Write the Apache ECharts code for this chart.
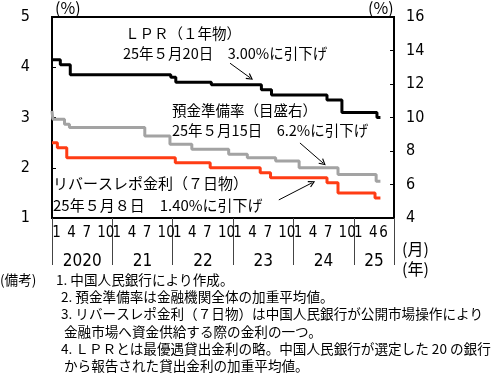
<!DOCTYPE html>
<html>
<head>
<meta charset="utf-8">
<script src="https://cdn.jsdelivr.net/npm/echarts@6/dist/echarts.min.js"></script>
<style>
html,body{margin:0;padding:0;background:#fff;}
#chart{width:493px;height:381px;}
</style>
</head>
<body>
<div id="chart"></div>
<script>
// ---- data (step dates and new levels) ----
const lprDates   = ['2020-01-01','2020-02-20','2020-04-20','2021-12-20','2022-01-20','2022-08-22','2023-06-20','2023-08-21','2024-07-22','2024-10-21','2025-05-20','2025-06-10'];
const lprValues  = [4.15, 4.05, 3.85, 3.80, 3.70, 3.65, 3.55, 3.45, 3.35, 3.10, 3.00, 3.00];

const rrrDates   = ['2020-01-01','2020-01-06','2020-03-16','2020-04-15','2021-07-15','2021-12-15','2022-04-25','2022-12-05','2023-03-27','2023-09-15','2024-02-05','2024-09-27','2025-05-15','2025-06-10'];
const rrrValues  = [10.4, 9.9, 9.6, 9.4, 8.9, 8.4, 8.1, 7.8, 7.6, 7.4, 7.0, 6.6, 6.2, 6.2];

const repoDates  = ['2020-01-01','2020-02-03','2020-03-30','2022-01-17','2022-08-15','2023-06-13','2023-08-15','2024-07-22','2024-09-27','2025-05-08','2025-06-10'];
const repoValues = [2.50, 2.40, 2.20, 2.10, 2.00, 1.90, 1.80, 1.70, 1.50, 1.40, 1.40];

// ---- axis labels ----
const yearLabels  = ['2020','21','22','23','24','25'];
const monthLabelsByYear = [['1','4','7','10'],['1','4','7','10'],['1','4','7','10'],['1','4','7','10'],['1','4','7','10'],['1','4','6']];
const axisStart = '2020-01-01';
const axisEnd   = '2025-09-01';

const FONT_NUM = "'Liberation Sans Narrow','DejaVu Sans Condensed',sans-serif";
const FONT_JP  = "'Noto Sans CJK JP',sans-serif";

function monthIndex(s){
  const [y,m,d] = s.split('-').map(Number);
  const dim = new Date(y, m, 0).getDate();
  return (y-2020)*12 + (m-1) + (d-1)/dim;
}
const xMax = monthIndex(axisEnd); // 68
function pairs(dates, vals){ return dates.map((d,i)=>[monthIndex(d), vals[i]]); }

const monthLabelMap = {};
monthLabelsByYear.forEach((arr, yi) => arr.forEach(lbl => {
  const c = yi*12 + (Number(lbl)-1) + 0.5;
  monthLabelMap[c.toFixed(1)] = lbl;
}));
const yearLabelMap = {};
yearLabels.forEach((lbl, yi) => {
  const s = yi*12, e = Math.min(yi*12+12, xMax);
  yearLabelMap[((s+e)/2).toFixed(1)] = lbl;
});

const chart = echarts.init(document.getElementById('chart'), null, {renderer:'canvas'});

const baseX = {type:'value', position:'bottom', gridIndex:0, min:0, max:xMax, splitLine:{show:false}, axisLine:{show:false}, axisTick:{show:false}, axisLabel:{show:false}};

function txt(x, y, text, size, extra){
  return Object.assign({type:'text', x:x, y:y, silent:true,
    style:{text:text, fill:'#000', font: size+'px ' + FONT_JP, textAlign:'left', align:'left', textVerticalAlign:'middle', verticalAlign:'middle'}}, extra||{});
}

const CHEVRON = 'path://M5,0 L10,8.6 L8.6,9.4 L5,3.2 L1.4,9.4 L0,8.6 Z';
function arrow(from, to){
  return {silent:true, symbol:['none', CHEVRON], symbolSize:[7,7], label:{show:false},
    lineStyle:{color:'#000', width:1, type:'solid'}, itemStyle:{color:'#000'},
    data:[[{coord:from},{coord:to}]]};
}

const option = {
  animation:false,
  backgroundColor:'#fff',
  grid:{left:52, right:99, top:17, bottom:163, show:true, borderColor:'#000', borderWidth:2, backgroundColor:'transparent', containLabel:false, outerBoundsMode:'none'},
  xAxis:[
    Object.assign({}, baseX, {interval:12, axisLine:{show:true, onZero:false, lineStyle:{color:'#000', width:2}},
      axisTick:{show:true, inside:false, length:47, lineStyle:{color:'#444', width:1}}}),
    Object.assign({}, baseX, {interval:0.5, axisLabel:{show:true, margin:8, color:'#000', fontFamily:FONT_NUM, fontSize:15,
      formatter:function(v){ const l = monthLabelMap[v.toFixed(1)]; if(!l) return ''; return l==='10' ? '{w|10}' : '{n|'+l+'}'; },
      rich:{n:{fontFamily:FONT_NUM, fontSize:15, color:'#000', padding:[0,0,0,4]}, w:{fontFamily:FONT_NUM, fontSize:15, color:'#000', padding:[0,0,0,12]}}}}),
    Object.assign({}, baseX, {interval:2, axisLabel:{show:true, margin:35, color:'#000', fontFamily:FONT_NUM, fontSize:17,
      formatter:function(v){ return yearLabelMap[v.toFixed(1)] || ''; }}})
  ],
  yAxis:[
    {type:'value', min:1, max:5, interval:1, position:'left', splitLine:{show:false},
     axisLine:{show:true, onZero:false, lineStyle:{color:'#000', width:2}},
     axisTick:{show:true, inside:true, length:4, lineStyle:{color:'#000'}},
     axisLabel:{margin:22, color:'#000', fontFamily:FONT_NUM, fontSize:16}},
    {type:'value', min:4, max:16, interval:2, position:'right', splitLine:{show:false},
     axisLine:{show:true, onZero:false, lineStyle:{color:'#000', width:2}},
     axisTick:{show:true, inside:true, length:4, lineStyle:{color:'#000'}},
     axisLabel:{margin:12, color:'#000', fontFamily:FONT_NUM, fontSize:16}}
  ],
  series:[
    {type:'line', name:'repo', xAxisIndex:0, yAxisIndex:0, step:'end', showSymbol:false, data:pairs(repoDates, repoValues),
     lineStyle:{color:'#ff3c14', width:3}, z:3, markLine:arrow([45.1,1.36],[51.7,1.70])},
    {type:'line', name:'rrr', xAxisIndex:0, yAxisIndex:1, step:'end', showSymbol:false, data:pairs(rrrDates, rrrValues),
     lineStyle:{color:'#a3a3a3', width:3}, z:3, markLine:arrow([49.3,8.48],[53.9,7.28])},
    {type:'line', name:'lpr', xAxisIndex:0, yAxisIndex:0, step:'end', showSymbol:false, data:pairs(lprDates, lprValues),
     lineStyle:{color:'#000', width:3}, z:4, markLine:arrow([35.4,4.08],[39.4,3.79])}
  ],
  graphic:[
    txt(55, 8, '(%)', 16),
    txt(368, 8, '(%)', 16),
    txt(125, 33, 'ＬＰＲ（１年物）', 14.5),
    txt(123, 53, '25年５月20日　3.00%に引下げ', 14.5),
    txt(172, 110, '預金準備率（目盛右）', 14.5),
    txt(172, 130, '25年５月15日　6.2%に引下げ', 14.5),
    txt(53, 183, 'リバースレポ金利（７日物）', 15),
    txt(53, 205, '25年５月８日　1.40%に引下げ', 15),
    txt(402, 249, '(月)', 16),
    txt(402, 269, '(年)', 16),
    txt(0, 280, '(備考)', 13.6),
    txt(56, 280, '1. 中国人民銀行により作成。', 13.6),
    txt(61, 297, '2. 預金準備率は金融機関全体の加重平均値。', 13.6),
    txt(61, 314, '3. リバースレポ金利（７日物）は中国人民銀行が公開市場操作により', 13.6),
    txt(64, 332, '金融市場へ資金供給する際の金利の一つ。', 13.6),
    txt(61, 349, '4. ＬＰＲとは最優遇貸出金利の略。中国人民銀行が選定した 20 の銀行', 13.6),
    txt(64, 366, 'から報告された貸出金利の加重平均値。', 13.6)
  ]
};
chart.setOption(option);
</script>
</body>
</html>
